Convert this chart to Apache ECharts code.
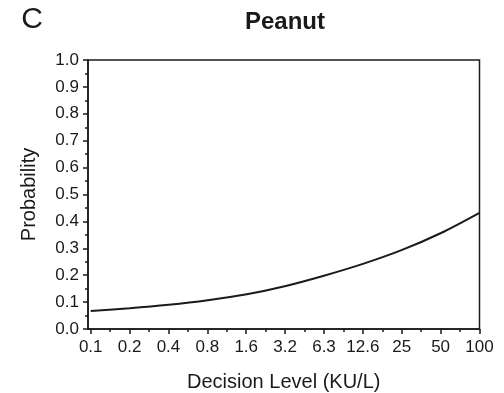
<!DOCTYPE html>
<html>
<head>
<meta charset="utf-8">
<script src="https://cdn.jsdelivr.net/npm/echarts@6/dist/echarts.min.js"></script>
<style>
  html, body { margin: 0; padding: 0; background: #fff; }
  #chart { width: 504px; height: 393px; }
</style>
</head>
<body>
<div id="chart"></div>
<script>
// Decision levels (KU/L) shown on the log-scaled x axis
const tickLabels = ['0.1', '0.2', '0.4', '0.8', '1.6', '3.2', '6.3', '12.6', '25', '50', '100'];
const decisionLevels = [0.1, 0.2, 0.4, 0.8, 1.6, 3.2, 6.3, 12.6, 25, 50, 100];
// Probability at each decision level
const probability = [0.067, 0.077, 0.090, 0.107, 0.129, 0.160, 0.198, 0.242, 0.293, 0.356, 0.432];
const yTicks = [0, 0.1, 0.2, 0.3, 0.4, 0.5, 0.6, 0.7, 0.8, 0.9, 1.0];

const FONT = '"Liberation Sans", Arial, Helvetica, sans-serif';
const INK = '#1a1a1a';

// Major tick positions on the log10 scale (evenly spaced 0.3 decades apart)
const majorPos = tickLabels.map((_, i) => -1 + 0.3 * i);
const minorPos = majorPos.slice(0, -1).map(v => v + 0.15);

const chart = echarts.init(document.getElementById('chart'), null, { renderer: 'canvas' });

const seriesData = decisionLevels.map((d, i) => [Math.log10(d), probability[i]]);

chart.setOption({
  animation: false,
  backgroundColor: '#fff',
  textStyle: { fontFamily: FONT, color: INK },
  grid: {
    left: 88, right: 24.5, top: 60, bottom: 64,
    containLabel: false, outerBoundsMode: 'none',
    show: true, borderColor: INK, borderWidth: 1.5, backgroundColor: 'transparent'
  },
  graphic: [
    { type: 'text', x: 32, y: 20,
      style: { text: 'C', font: '30px ' + FONT, fill: INK, textAlign: 'center', textVerticalAlign: 'middle' } },
    { type: 'text', x: 285, y: 22,
      style: { text: 'Peanut', font: 'bold 24px ' + FONT, fill: INK, textAlign: 'center', textVerticalAlign: 'middle' } }
  ],
  xAxis: [
    {
      type: 'value', min: -1.021, max: 2,
      name: 'Decision Level (KU/L)', nameLocation: 'middle', nameGap: 43,
      nameTextStyle: { fontSize: 20, color: INK, fontFamily: FONT },
      axisLine: { show: true, onZero: false, lineStyle: { color: INK, width: 1.5 } },
      axisTick: { show: true, length: 5, lineStyle: { color: INK, width: 1.5 }, customValues: majorPos },
      axisLabel: {
        show: true, fontSize: 17, color: INK, margin: 10, fontFamily: FONT,
        customValues: majorPos,
        formatter: v => tickLabels[Math.round((v + 1) / 0.3)]
      },
      splitLine: { show: false }
    },
    {
      type: 'value', min: -1.021, max: 2, position: 'bottom',
      axisLine: { show: false, onZero: false },
      axisTick: { show: true, length: 3, lineStyle: { color: INK, width: 1.5 }, customValues: minorPos },
      axisLabel: { show: false },
      splitLine: { show: false }
    }
  ],
  yAxis: {
    type: 'value', min: 0, max: 1, interval: 0.1,
    name: 'Probability', nameLocation: 'middle', nameGap: 49,
    nameTextStyle: { fontSize: 20, color: INK, fontFamily: FONT },
    axisLine: { show: true, onZero: false, lineStyle: { color: INK, width: 1.5 } },
    axisTick: { show: true, inside: false, length: 5, lineStyle: { color: INK, width: 1.5 } },
    minorTick: { show: true, splitNumber: 2, length: 3, lineStyle: { color: INK, width: 1.5 } },
    axisLabel: {
      fontSize: 17, color: INK, margin: 9, fontFamily: FONT,
      formatter: v => {
        const idx = yTicks.findIndex(t => Math.abs(t - v) < 1e-6);
        return idx >= 0 ? yTicks[idx].toFixed(1) : '';
      }
    },
    splitLine: { show: false }
  },
  series: [{
    type: 'line',
    xAxisIndex: 0,
    data: seriesData,
    smooth: 0.3,
    showSymbol: false,
    lineStyle: { color: INK, width: 2 }
  }]
});
</script>
</body>
</html>
